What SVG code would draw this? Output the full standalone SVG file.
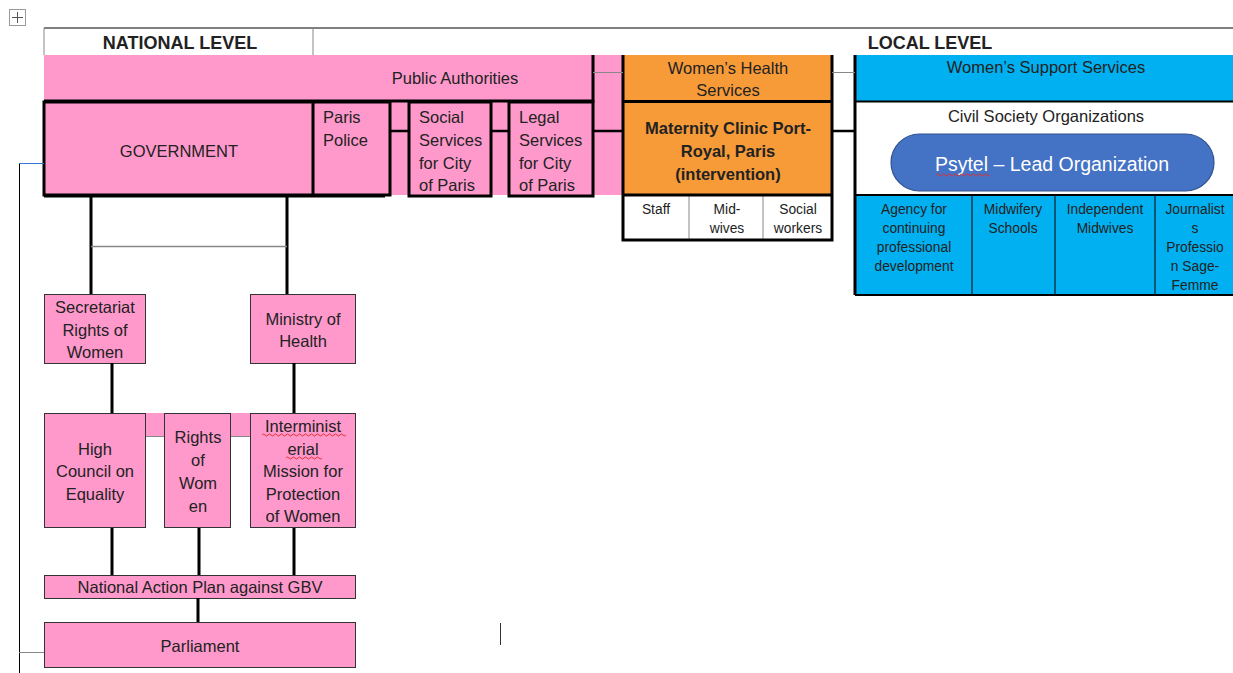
<svg xmlns="http://www.w3.org/2000/svg" width="1233" height="673" viewBox="0 0 1233 673">
<style>
text{font-family:"Liberation Sans",Arial,sans-serif;fill:#222;font-size:16.5px}
.c{text-anchor:middle}
.b{font-weight:bold}
.s{font-size:13.8px}
.pk{fill:#FF99CC}
.or{fill:#F79A38}
.bl{fill:#00B0F0}
.thick{stroke:#000;stroke-width:3;fill:none}
.thin{stroke:#000;stroke-width:1;fill:none}
.gray{stroke:#888;stroke-width:1;fill:none}
.sq{stroke:#E03030;stroke-width:1;fill:none}
</style>
<rect width="1233" height="673" fill="#fff"/>
<!-- move handle -->
<g id="handle">
<rect x="9.5" y="9.5" width="16" height="16" fill="#fff" stroke="#999"/>
<path d="M17.5 12v11M12 17.5h11" stroke="#555" stroke-width="1"/>
</g>
<!-- header -->
<g id="header">
<rect x="44" y="28" width="1189" height="27" fill="#fff"/>
<path d="M44 28H1233" class="thin"/>
<path d="M44 28V55M313 28V55" class="gray"/>
<text x="180" y="49" class="c b" style="font-size:18px">NATIONAL LEVEL</text>
<text x="930" y="49" class="c b" style="font-size:18px">LOCAL LEVEL</text>
</g>
<!-- pink background -->
<rect x="44" y="55" width="579" height="140" class="pk"/>
<g id="public-authorities">
<path d="M44 101H593V55" class="thick"/>
<text x="455" y="84" class="c">Public Authorities</text>
</g>
<g id="government">
<rect x="44" y="102" width="269" height="93" class="pk"/>
<rect x="44" y="102" width="269" height="93" class="thick"/>
<text x="179" y="157" class="c">GOVERNMENT</text>
</g>
<g id="paris-police">
<path d="M313 102H390V195H313" class="thick"/>
<text x="323" y="123">Paris</text>
<text x="323" y="146">Police</text>
</g>
<g id="social-services">
<rect x="409" y="102" width="82" height="94" class="thick"/>
<text x="419" y="123">Social</text>
<text x="419" y="146">Services</text>
<text x="419" y="169">for City</text>
<text x="419" y="191">of Paris</text>
</g>
<g id="legal-services">
<rect x="509" y="102" width="84" height="94" class="thick"/>
<text x="519" y="123">Legal</text>
<text x="519" y="146">Services</text>
<text x="519" y="169">for City</text>
<text x="519" y="191">of Paris</text>
</g>
<!-- orange -->
<g id="womens-health">
<rect x="623" y="55" width="209" height="46" class="or"/>
<text x="728" y="74" class="c">Women’s Health</text>
<text x="728" y="96" class="c">Services</text>
</g>
<g id="maternity">
<rect x="623" y="102" width="209" height="93" class="or"/>
<text x="728" y="134" class="c b">Maternity Clinic Port-</text>
<text x="728" y="157" class="c b">Royal, Paris</text>
<text x="728" y="180" class="c b">(intervention)</text>
</g>
<g id="staff-cells">
<rect x="623" y="195" width="209" height="45" fill="#fff"/>
<path d="M689 196V240M763 196V240" class="gray"/>
<text x="656" y="214" class="c s">Staff</text>
<text x="727" y="214" class="c s">Mid-</text>
<text x="727" y="233" class="c s">wives</text>
<text x="798" y="214" class="c s">Social</text>
<text x="798" y="233" class="c s">workers</text>
</g>
<path d="M623 55V240H832V55M623 101.5H832M623 195H832" class="thick"/>
<!-- blue -->
<g id="womens-support">
<rect x="855" y="55" width="378" height="46" class="bl"/>
<text x="1046" y="73" class="c">Women’s Support Services</text>
</g>
<g id="civil-society">
<rect x="855" y="102" width="378" height="93" fill="#fff"/>
<text x="1046" y="122" class="c">Civil Society Organizations</text>
</g>
<g id="psytel">
<rect x="891" y="134" width="323" height="57" rx="28.5" fill="#4472C4" stroke="#2F528F" stroke-width="1.2"/>
<text x="1052" y="171" class="c" style="fill:#fff;font-size:19.5px">Psytel – Lead Organization</text>
<path d="M936 175q1.5-2 3 0t3 0t3 0t3 0t3 0t3 0t3 0t3 0t3 0t3 0t3 0t3 0t3 0t3 0t3 0t3 0t3 0t3 0" class="sq"/>
</g>
<g id="local-cells">
<rect x="855" y="195" width="378" height="100" class="bl"/>
<path d="M972 196V295M1055 196V295M1155 196V295" class="thin"/>
<text x="914" y="214" class="c s">Agency for</text>
<text x="914" y="233" class="c s">continuing</text>
<text x="914" y="252" class="c s">professional</text>
<text x="914" y="271" class="c s">development</text>
<text x="1013" y="214" class="c s">Midwifery</text>
<text x="1013" y="233" class="c s">Schools</text>
<text x="1105" y="214" class="c s">Independent</text>
<text x="1105" y="233" class="c s">Midwives</text>
<text x="1195" y="214" class="c s">Journalist</text>
<text x="1195" y="233" class="c s">s</text>
<text x="1195" y="252" class="c s">Professio</text>
<text x="1195" y="271" class="c s">n Sage-</text>
<text x="1195" y="290" class="c s">Femme</text>
</g>
<path d="M855 101.5H1233M855 195H1233M855 295H1233" class="thick" style="stroke-width:2"/>
<path d="M855 55V295" class="thick"/>
<!-- lower national nodes -->
<g id="secretariat">
<rect x="44.5" y="294.5" width="101" height="69" class="pk" stroke="#333"/>
<text x="95" y="313" class="c">Secretariat</text>
<text x="95" y="336" class="c">Rights of</text>
<text x="95" y="358" class="c">Women</text>
</g>
<g id="ministry-health">
<rect x="250.5" y="294.5" width="105" height="69" class="pk" stroke="#333"/>
<text x="303" y="325" class="c">Ministry of</text>
<text x="303" y="347" class="c">Health</text>
</g>
<rect x="146" y="413" width="104" height="24" class="pk"/>
<g id="high-council">
<rect x="44.5" y="413.5" width="101" height="114" class="pk" stroke="#333"/>
<text x="95" y="455" class="c">High</text>
<text x="95" y="477" class="c">Council on</text>
<text x="95" y="500" class="c">Equality</text>
</g>
<g id="rights-women">
<rect x="164.5" y="413.5" width="66" height="114" class="pk" stroke="#333"/>
<text x="198" y="443" class="c">Rights</text>
<text x="198" y="466" class="c">of</text>
<text x="198" y="489" class="c">Wom</text>
<text x="198" y="512" class="c">en</text>
</g>
<g id="interministerial">
<rect x="250.5" y="413.5" width="105" height="114" class="pk" stroke="#333"/>
<text x="303" y="432" class="c">Interminist</text>
<text x="303" y="455" class="c">erial</text>
<text x="303" y="477" class="c">Mission for</text>
<text x="303" y="500" class="c">Protection</text>
<text x="303" y="522" class="c">of Women</text>
<path d="M262 435q1.5-2 3 0t3 0t3 0t3 0t3 0t3 0t3 0t3 0t3 0t3 0t3 0t3 0t3 0t3 0t3 0t3 0t3 0t3 0t3 0t3 0t3 0t3 0t3 0t3 0t3 0t3 0t3 0t3 0" class="sq"/>
<path d="M286 458q1.5-2 3 0t3 0t3 0t3 0t3 0t3 0t3 0t3 0t3 0t3 0t3 0t3 0" class="sq"/>
</g>
<g id="nap">
<rect x="44.5" y="575.5" width="311" height="23" class="pk" stroke="#333"/>
<text x="200" y="593" class="c">National Action Plan against GBV</text>
</g>
<g id="parliament">
<rect x="44.5" y="622.5" width="311" height="45" class="pk" stroke="#333"/>
<text x="200" y="652" class="c">Parliament</text>
</g>
<!-- connectors -->
<g id="connectors">
<path d="M593 72.5H623M832 72.5H855" class="gray"/>
<path d="M390 131H409M491 131H509M593 131H623M832 131H855" class="thick" style="stroke-width:2.5"/>
<path d="M44 196H385" class="thick"/>
<path d="M91 196V294M287 196V294" class="thick"/>
<path d="M91 246.5H287" class="gray" style="stroke-width:1.5"/>
<path d="M112 363V413M294 363V413" class="thick"/>
<path d="M146 436.5H164M231 436.5H250" class="gray"/>
<path d="M112 528V575M199 528V575M294 528V575" class="thick"/>
<path d="M198 598V622" class="thick"/>
<path d="M19.5 163.5V673" fill="none" stroke="#000" stroke-width="1"/>
<path d="M19 163.5H44" stroke="#2E75D6" stroke-width="1"/>
<path d="M19 652.5H44" class="gray"/>
</g>
<path d="M500.5 623V645" stroke="#333" stroke-width="1"/>
</svg>
